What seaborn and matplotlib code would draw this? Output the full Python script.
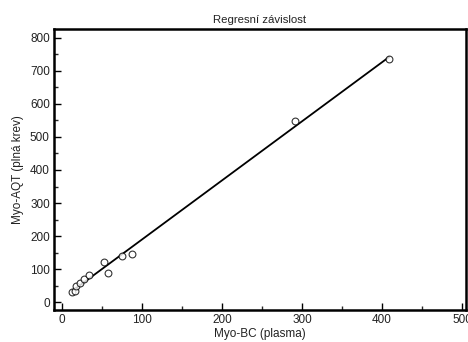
import matplotlib
matplotlib.use("Agg")
import matplotlib.pyplot as plt
import seaborn as sns
import numpy as np
import pandas as pd
from matplotlib.ticker import MultipleLocator

x_vals = [13, 16, 17.5, 22.5, 28, 34, 52, 57, 75, 88, 291, 409]
y_vals = [30, 35, 48, 58, 69, 83, 122, 88, 139, 145, 549, 735]
x_ticks = [0, 100, 200, 300, 400, 500]
y_ticks = [0, 100, 200, 300, 400, 500, 600, 700, 800]

sns.set_style("ticks")
plt.rcParams['font.family'] = ['Liberation Sans', 'DejaVu Sans']

df = pd.DataFrame({"x": x_vals, "y": y_vals})

fig = plt.figure(figsize=(4.68, 3.42), dpi=100)
ax = fig.add_axes([54/468, 1-310/342, (466-54)/468, (310-29)/342])

sns.regplot(data=df, x="x", y="y", ax=ax, ci=None, truncate=True,
            scatter_kws=dict(s=24, facecolors="white", edgecolors="black", linewidths=0.8, zorder=3),
            line_kws=dict(color="black", lw=1.3, zorder=2), marker="o")

ax.set_xlim(-10, 505)
ax.set_ylim(-24, 827)
ax.set_xticks(x_ticks)
ax.set_yticks(y_ticks)
ax.xaxis.set_minor_locator(MultipleLocator(50))
ax.yaxis.set_minor_locator(MultipleLocator(50))
ax.tick_params(which="major", direction="in", length=5, width=1, labelsize=8.5, colors="black", labelcolor="#222222", pad=3)
ax.tick_params(which="minor", direction="in", length=3, width=1)
ax.tick_params(top=False, right=False, which="both")
for sp in ax.spines.values():
    sp.set_linewidth(1.8)
    sp.set_color("black")

ax.set_xlabel("Myo-BC (plasma)", fontsize=8.5, color="#222222", labelpad=1)
ax.set_ylabel("Myo-AQT (plná krev)", fontsize=8.5, color="#222222", labelpad=4)
ax.set_title("Regresní závislost", fontsize=8.2, color="#222222", pad=4)

fig.savefig("out.png", dpi=100)
